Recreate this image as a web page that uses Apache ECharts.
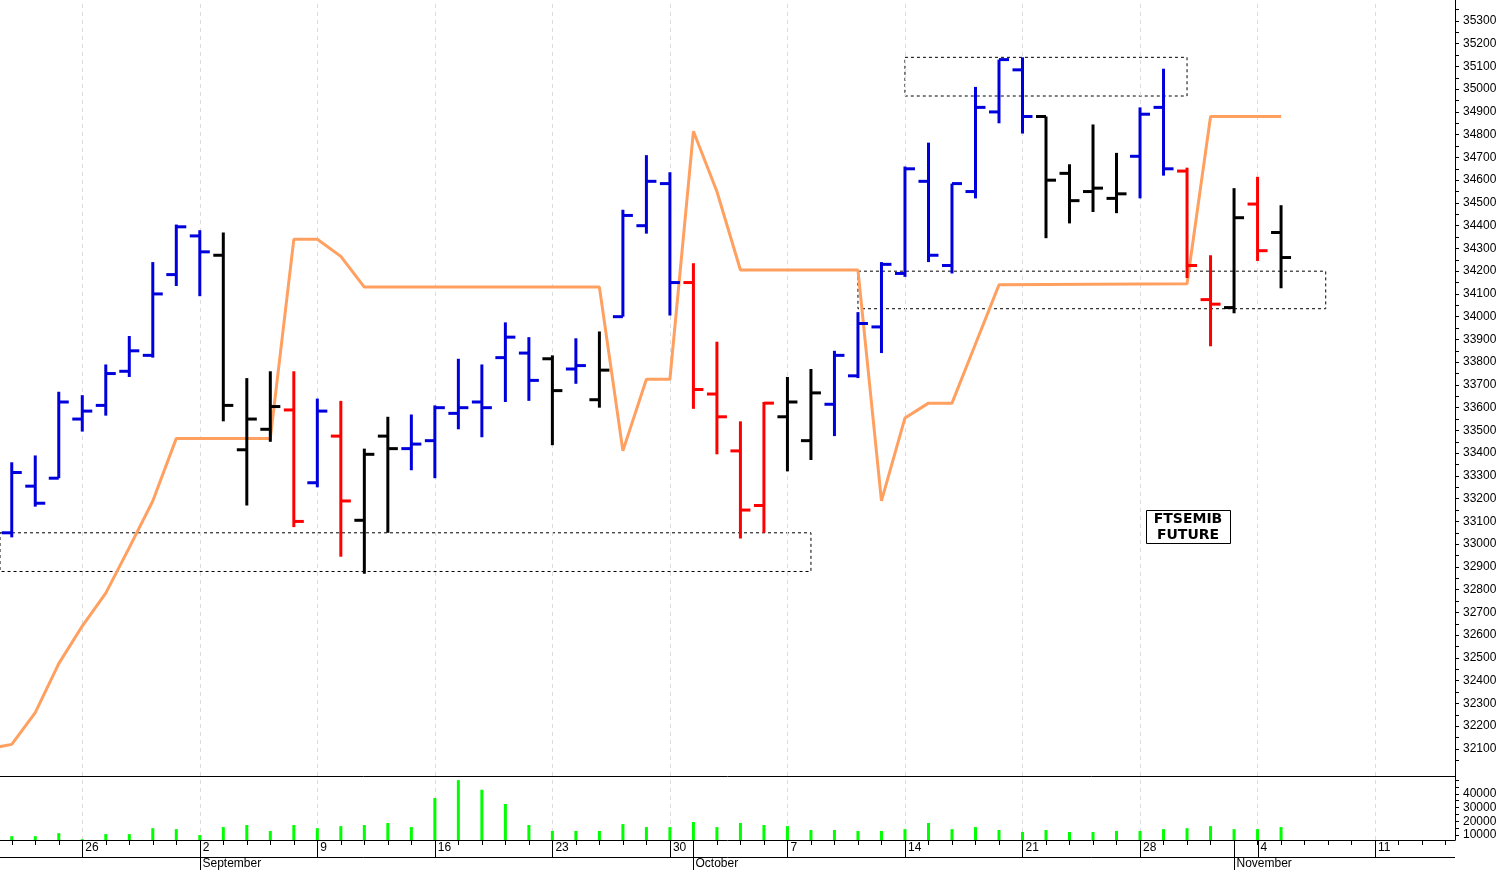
<!DOCTYPE html>
<html><head><meta charset="utf-8">
<script src="https://cdn.jsdelivr.net/npm/echarts@6/dist/echarts.min.js"></script>
<style>html,body{margin:0;padding:0;background:#fff}#c{width:1503px;height:870px}</style>
</head><body><div id="c"></div>
<script>
// trading-day index: 0 = Mon 26 Aug 2024
const days = [-3,-2,-1,0,1,2,3,4,5,6,7,8,9,10,11,12,13,14,15,16,17,18,19,20,21,22,23,24,25,26,27,28,29,30,31,32,33,34,35,36,37,38,39,40,41,42,43,44,45,46,47,48,49,50,51];
const opens  = [33050,33255,33290,33550,33610,33760,33830,34185,34355,34270,33415,33505,33590,33270,33475,33105,33475,33420,33455,33575,33625,33820,33840,33815,33770,33635,34000,34400,34585,34150,33660,33410,33170,33560,33455,33615,33740,33955,34190,34595,34225,34550,34900,35085,34880,34630,34550,34520,34705,34920,34640,34075,34040,34495,34370];
const highs  = [33360,33390,33670,33655,33790,33915,34240,34405,34380,34370,33730,33760,33760,33640,33630,33420,33560,33570,33610,33815,33790,33975,33910,33830,33905,33935,34470,34710,34635,34235,33890,33540,33625,33735,33770,33850,34020,34240,34660,34765,34585,35010,35130,35140,34880,34670,34845,34720,34920,35090,34655,34270,34565,34615,34490];
const lows   = [33030,33165,33290,33495,33565,33735,33820,34135,34090,33540,33170,33450,33075,33250,32945,32870,33050,33325,33290,33505,33470,33625,33630,33435,33705,33600,34000,34365,34005,33595,33395,33025,33050,33320,33370,33475,33730,33840,34175,34240,34190,34520,34850,34805,34345,34410,34460,34455,34520,34620,34170,33870,34015,34245,34125];
const closes = [33315,33180,33625,33585,33750,33850,34100,34395,34285,33610,33550,33605,33100,33585,33190,33395,33420,33440,33600,33600,33600,33910,33720,33675,33785,33765,34445,34595,34150,33680,33560,33150,33620,33625,33665,33830,33970,34230,34650,34270,34585,34920,35130,34880,34600,34510,34565,34540,34890,34650,34225,34055,34435,34290,34260];
const barColors = ['b','b','b','b','b','b','b','b','b','k','k','k','r','b','r','k','k','b','b','b','b','b','b','k','b','k','b','b','b','r','r','r','r','k','k','b','b','b','b','b','b','b','b','b','k','k','k','k','b','b','r','r','k','r','k'];
const volumes = [9200,9200,11400,7000,10700,10700,15000,14300,10000,15800,17300,13000,17300,15000,16500,17300,18800,15800,37000,50000,43000,32600,17300,13000,13000,13000,18000,15800,15800,19500,15800,18800,17300,16500,13700,13700,13000,13000,14300,18800,14300,15800,13700,12200,13700,12200,12200,13000,13000,14300,15000,16500,14300,14300,15800];
const lineDays = [-4,-3,-2,-1,0,1,2,3,4,5,6,7,8,9,10,11,12,13,22,23,24,25,26,27,28,33,34,35,36,37,38,39,47,48,51];
const lineVals = [32100,32120,32260,32475,32640,32785,32985,33190,33465,33465,33465,33465,33465,34340,34340,34265,34130,34130,34130,33410,33725,33725,34815,34550,34205,34205,33190,33555,33620,33620,33880,34140,34145,34880,34880];
const mondays = [0,5,10,15,20,25,30,35,40,45,50,55];
const mondayLabels = ['26','2','9','16','23','30','7','14','21','28','4','11'];
const monthStarts = [5,26,49];
const monthLabels = ['September','October','November'];
const priceTicks = []; for (let v=32100; v<=35300; v+=100) priceTicks.push(v);
const volTicks = [10000,20000,30000,40000];
const boxes = [[-3.5,33050,31,32880],[35,35140,47,34970],[33,34200,52.9,34035]];

const colorMap = {b:'#0000dd', r:'#ff0000', k:'#000000'};
const ohlc = days.map((d,i)=>[d,opens[i],highs[i],lows[i],closes[i],i]);
const XMIN=-3.5, XMAX=58.4;
const chart = echarts.init(document.getElementById('c'));
const minorP=[]; for (let v=32050; v<=35350; v+=50) minorP.push(v);
const minorV=[]; for (let v=10000; v<=50000; v+=5000) minorV.push(v);
const allDays=[]; for (let d=-3; d<=58; d++) allDays.push(d);
const markMondays = {silent:true,symbol:'none',z:1,label:{show:false},lineStyle:{color:'#dcdcdc',type:[4,4],width:1},data:mondays.map(m=>({xAxis:m+0.0001}))};
chart.setOption({
  animation:false,
  grid:[{left:0,right:48,top:0,height:776},{left:0,right:48,top:776,height:64}],
  xAxis:[
    {type:'value',gridIndex:0,min:XMIN,max:XMAX,show:false},
    {type:'value',gridIndex:1,min:XMIN,max:XMAX,axisLine:{onZero:false,lineStyle:{color:'#000',width:1}},
     axisTick:{customValues:allDays,length:5,lineStyle:{color:'#000'}},splitLine:{show:false},
     axisLabel:{customValues:mondays,formatter:v=>mondayLabels[mondays.indexOf(Math.round(v))]||'',align:'left',margin:2,padding:[0,0,0,3],color:'#000',fontFamily:'Liberation Sans',fontSize:12}}
  ],
  yAxis:[
    {type:'value',gridIndex:0,position:'right',min:31981,max:35392,
     axisLine:{show:true,onZero:false,lineStyle:{color:'#000'}},axisTick:{customValues:minorP,length:4,lineStyle:{color:'#000'}},
     axisLabel:{customValues:priceTicks,formatter:v=>String(v),color:'#000',fontFamily:'Liberation Sans',fontSize:12,margin:8},splitLine:{show:false}},
    {type:'value',gridIndex:1,position:'right',min:6400,max:53000,
     axisLine:{show:true,onZero:false,lineStyle:{color:'#000'}},axisTick:{customValues:minorV,length:4,lineStyle:{color:'#000'}},
     axisLabel:{customValues:volTicks,formatter:v=>String(v),color:'#000',fontFamily:'Liberation Sans',fontSize:12,margin:8},splitLine:{show:false}}
  ],
  series:[
    {type:'line',xAxisIndex:0,yAxisIndex:0,data:[],markLine:markMondays,z:1},
    {type:'line',xAxisIndex:0,yAxisIndex:0,data:lineDays.map((d,i)=>[d,lineVals[i]]),symbol:'none',
     lineStyle:{color:'#ffa060',width:3},z:2,
     markArea:{silent:true,itemStyle:{color:'rgba(0,0,0,0)',borderColor:'#000',borderWidth:1,borderType:[3,3]},
       data:boxes.map(b=>[{coord:[b[0],b[1]]},{coord:[b[2],b[3]]}])}},
    {type:'custom',xAxisIndex:0,yAxisIndex:0,data:ohlc,z:10,
     renderItem:function(params,api){
       const x=api.value(0);
       const o=api.coord([x,api.value(1)]),h=api.coord([x,api.value(2)]),l=api.coord([x,api.value(3)]),c=api.coord([x,api.value(4)]);
       const col=colorMap[barColors[api.value(5)]];
       const st={stroke:col,lineWidth:3};
       return {type:'group',children:[
         {type:'line',shape:{x1:h[0],y1:h[1],x2:l[0],y2:l[1]},style:st},
         {type:'line',shape:{x1:o[0]-10,y1:o[1],x2:o[0],y2:o[1]},style:st},
         {type:'line',shape:{x1:c[0],y1:c[1],x2:c[0]+10,y2:c[1]},style:st}]};
     }},
    {type:'line',xAxisIndex:1,yAxisIndex:1,data:[],markLine:markMondays,z:1},
    {type:'bar',xAxisIndex:1,yAxisIndex:1,data:days.map((d,i)=>[d,volumes[i]]),barWidth:3,itemStyle:{color:'#00ff00'},z:10}
  ]
});
function overlays(){
  const g=[];
  const px=d=>chart.convertToPixel({xAxisIndex:1},d);
  const xr=chart.convertToPixel({xAxisIndex:1},XMAX);
  g.push({type:'line',shape:{x1:0,y1:776.5,x2:xr,y2:776.5},style:{stroke:'#000',lineWidth:1}});
  g.push({type:'line',shape:{x1:0,y1:857.5,x2:xr,y2:857.5},style:{stroke:'#000',lineWidth:1}});
  mondays.forEach(m=>{const x=Math.round(px(m))+0.5;g.push({type:'line',shape:{x1:x,y1:840,x2:x,y2:857},style:{stroke:'#000',lineWidth:1}});});
  monthStarts.forEach((m,i)=>{const x=Math.round(px(m))+0.5;
    g.push({type:'line',shape:{x1:x,y1:840,x2:x,y2:870},style:{stroke:'#000',lineWidth:1}});
    g.push({type:'text',x:x+2,y:858,style:{text:monthLabels[i],fill:'#000',font:'12px "Liberation Sans"'}});});
  g.push({type:'rect',shape:{x:1146.5,y:510.5,width:84,height:33},style:{fill:'#fff',stroke:'#000',lineWidth:1}});
  g.push({type:'text',x:1188,y:527,style:{text:'FTSEMIB\nFUTURE',align:'center',verticalAlign:'middle',fill:'#000',font:'bold 14px "DejaVu Sans"',lineHeight:16}});
  chart.setOption({graphic:g});
}
overlays();
</script></body></html>
